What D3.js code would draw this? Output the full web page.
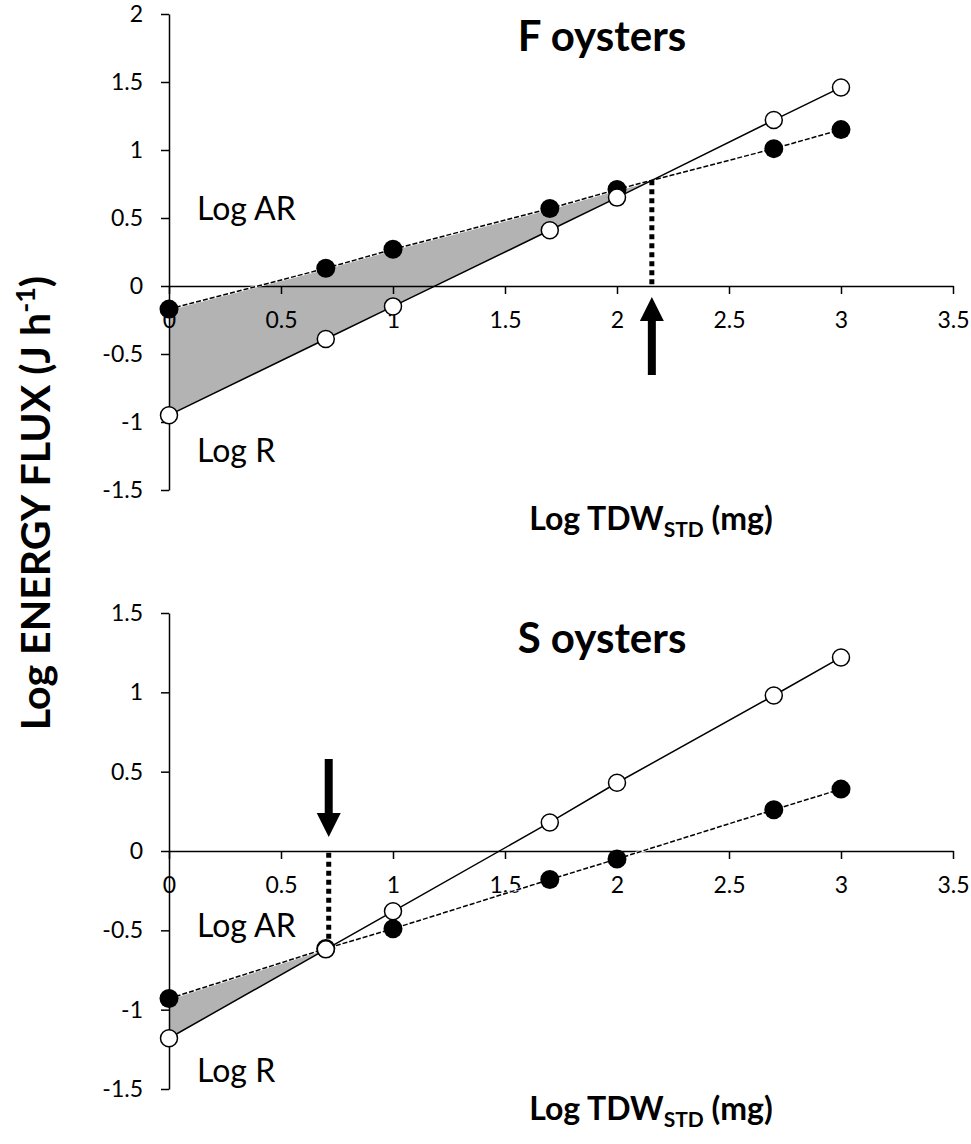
<!DOCTYPE html>
<html>
<head>
<meta charset="utf-8">
<script src="https://cdn.jsdelivr.net/npm/d3@7"></script>
<style>
  body { margin: 0; background: #fff; }
  svg { display: block; font-family: Lato, "Open Sans", sans-serif; }
  .axis path, .axis line { stroke: #000; stroke-width: 1.5; }
  .axis text { font-size: 23px; fill: #000; font-family: Lato, sans-serif; }
</style>
</head>
<body>
<div id="chart"></div>
<script>
// log of standardised tissue dry weight (x values shared by both panels)
const logTDW = [0, 0.7, 1, 1.7, 2, 2.7, 3];

// F oysters
const fAR = [-0.17, 0.13, 0.27, 0.57, 0.71, 1.01, 1.15];
const fR = [-0.95, -0.39, -0.15, 0.41, 0.65, 1.22, 1.46];

// S oysters
const sAR = [-0.93, -0.615, -0.49, -0.18, -0.05, 0.26, 0.39];
const sR = [-1.18, -0.62, -0.38, 0.18, 0.43, 0.98, 1.22];

const xTicks = [0, 0.5, 1, 1.5, 2, 2.5, 3, 3.5];
const fYTicks = [-1.5, -1, -0.5, 0, 0.5, 1, 1.5, 2];
const sYTicks = [-1.5, -1, -0.5, 0, 0.5, 1, 1.5];

const width = 971;
const height = 1144;

const svg = d3.select('#chart')
  .append('svg')
    .attr('width', width)
    .attr('height', height);

// find where the AR line drops below the R line
function crossing(xs, ar, r) {
    for (let i = 0; i < xs.length - 1; i++) {
        const d0 = ar[i] - r[i];
        const d1 = ar[i + 1] - r[i + 1];
        if (d0 >= 0 && d1 < 0) {
            const t = d0 / (d0 - d1);
            return {
                i: i,
                x: xs[i] + t * (xs[i + 1] - xs[i]),
                y: ar[i] + t * (ar[i + 1] - ar[i])
            };
        }
    }
    return null;
}

function panel(opts) {
    const xScale = d3.scaleLinear().domain([0, 3.5]).range([169, 953]);
    const yScale = d3.scaleLinear().domain(opts.yDomain).range(opts.yRange);

    const g = svg.append('g');
    const cross = crossing(logTDW, opts.ar, opts.r);

    // shaded area between AR and R up to the crossing
    const shade = logTDW
        .map((x, i) => ({x: x, ar: opts.ar[i], r: opts.r[i]}))
        .filter(d => d.x <= cross.x);
    shade.push({x: cross.x, ar: cross.y, r: cross.y});

    g.append('path')
        .datum(shade)
        .attr('fill', '#b3b3b3')
        .attr('d', d3.area()
            .x(d => xScale(d.x))
            .y0(d => yScale(d.r))
            .y1(d => yScale(d.ar)));

    // axes
    const xAxis = d3.axisBottom(xScale)
        .tickValues(xTicks)
        .tickFormat(d => String(d))
        .tickSizeInner(8)
        .tickSizeOuter(0)
        .tickPadding(18);
    const yAxis = d3.axisLeft(yScale)
        .tickValues(opts.yTicks)
        .tickFormat(d => String(d))
        .tickSizeInner(8)
        .tickSizeOuter(0)
        .tickPadding(18);

    g.append('g')
        .attr('class', 'axis')
        .attr('transform', `translate(0,${yScale(0)})`)
        .call(xAxis);
    g.append('g')
        .attr('class', 'axis')
        .attr('transform', `translate(${xScale(0)},0)`)
        .call(yAxis);

    const pts = logTDW.map((x, i) => ({x: x, ar: opts.ar[i], r: opts.r[i]}));

    // AR line: dashed over a white underlay
    const arLine = d3.line().x(d => xScale(d.x)).y(d => yScale(d.ar));
    g.append('path')
        .datum(pts)
        .attr('fill', 'none')
        .attr('stroke', '#fff')
        .attr('stroke-width', 2.5)
        .attr('d', arLine);
    g.append('path')
        .datum(pts)
        .attr('fill', 'none')
        .attr('stroke', '#000')
        .attr('stroke-width', 1.5)
        .attr('stroke-dasharray', '5,2')
        .attr('d', arLine);

    // R line: solid
    g.append('path')
        .datum(pts)
        .attr('fill', 'none')
        .attr('stroke', '#000')
        .attr('stroke-width', 1.5)
        .attr('d', d3.line().x(d => xScale(d.x)).y(d => yScale(d.r)));

    // dotted drop line from the crossing to the x axis
    g.append('line')
        .attr('x1', xScale(cross.x))
        .attr('x2', xScale(cross.x))
        .attr('y1', yScale(cross.y))
        .attr('y2', yScale(0))
        .attr('stroke', '#000')
        .attr('stroke-width', 5)
        .attr('stroke-dasharray', '5,4');

    // arrow pointing at the crossing
    const ax = xScale(cross.x);
    const ay = yScale(0);
    const dir = opts.arrowDir; // 1 = below axis pointing up, -1 = above pointing down
    const tip = ay + dir * opts.arrowGap;
    const headEnd = tip + dir * 24;
    const tail = tip + dir * 78;
    const p = d3.path();
    p.moveTo(ax, tip);
    p.lineTo(ax + 12, headEnd);
    p.lineTo(ax + 4, headEnd);
    p.lineTo(ax + 4, tail);
    p.lineTo(ax - 4, tail);
    p.lineTo(ax - 4, headEnd);
    p.lineTo(ax - 12, headEnd);
    p.closePath();
    g.append('path').attr('d', p.toString()).attr('fill', '#000');

    // markers
    g.selectAll('.ar-dot')
      .data(pts)
      .enter()
      .append('circle')
        .attr('class', 'ar-dot')
        .attr('cx', d => xScale(d.x))
        .attr('cy', d => yScale(d.ar))
        .attr('r', 9.5)
        .attr('fill', '#000');
    g.selectAll('.r-dot')
      .data(pts)
      .enter()
      .append('circle')
        .attr('class', 'r-dot')
        .attr('cx', d => xScale(d.x))
        .attr('cy', d => yScale(d.r))
        .attr('r', 8.5)
        .attr('fill', '#fff')
        .attr('stroke', '#000')
        .attr('stroke-width', 1.5);

    // labels
    g.append('text')
        .attr('x', 602)
        .attr('y', opts.titleY)
        .attr('text-anchor', 'middle')
        .attr('font-weight', 700)
        .attr('font-size', 42)
        .text(opts.title);

    g.append('text')
        .attr('x', 197)
        .attr('y', opts.arLabelY)
        .attr('font-size', 32)
        .text('Log AR');
    g.append('text')
        .attr('x', 197)
        .attr('y', opts.rLabelY)
        .attr('font-size', 32)
        .text('Log R');

    const xt = g.append('text')
        .attr('x', 651)
        .attr('y', opts.xTitleY)
        .attr('text-anchor', 'middle')
        .attr('font-weight', 700)
        .attr('font-size', 32);
    xt.append('tspan').text('Log TDW');
    xt.append('tspan').attr('font-size', 21).attr('dy', 7).text('STD');
    xt.append('tspan').attr('dy', -7).text(' (mg)');
}

panel({
    title: 'F oysters',
    ar: fAR,
    r: fR,
    yDomain: [-1.5, 2],
    yRange: [490, 14],
    yTicks: fYTicks,
    arrowDir: 1,
    arrowGap: 11,
    titleY: 51,
    arLabelY: 220,
    rLabelY: 462,
    xTitleY: 530
});

panel({
    title: 'S oysters',
    ar: sAR,
    r: sR,
    yDomain: [-1.5, 1.5],
    yRange: [1089, 613],
    yTicks: sYTicks,
    arrowDir: -1,
    arrowGap: 14,
    titleY: 653,
    arLabelY: 937,
    rLabelY: 1082,
    xTitleY: 1120
});

// shared y axis title
const yt = svg.append('text')
    .attr('transform', 'translate(50,503) rotate(-90)')
    .attr('text-anchor', 'middle')
    .attr('font-weight', 700)
    .attr('font-size', 41);
yt.append('tspan').text('Log ENERGY FLUX (J h');
yt.append('tspan').attr('font-size', 27).attr('dy', -15).text('-1');
yt.append('tspan').attr('dy', 15).text(')');
</script>
</body>
</html>
